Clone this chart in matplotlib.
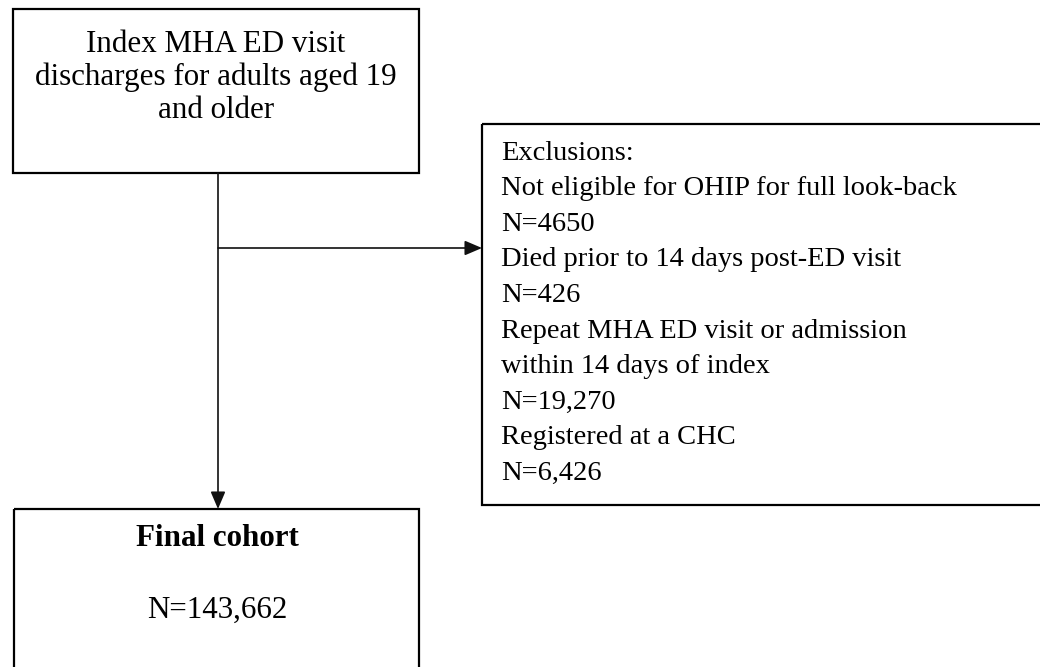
import matplotlib.pyplot as plt
from matplotlib.patches import Rectangle

# flowchart content
index_lines = ["Index MHA ED visit", "discharges for adults aged 19", "and older"]
exclusion_lines = [
    "Exclusions:",
    "Not eligible for OHIP for full look-back",
    "N=4650",
    "Died prior to 14 days post-ED visit",
    "N=426",
    "Repeat MHA ED visit or admission",
    "within 14 days of index",
    "N=19,270",
    "Registered at a CHC",
    "N=6,426",
]
final_title = "Final cohort"
final_n = "N=143,662"

plt.rcParams['font.family'] = ['Liberation Serif', 'DejaVu Serif']

fig = plt.figure(figsize=(10.4, 6.67), dpi=100)
ax = fig.add_axes([0, 0, 1, 1])
ax.set_xlim(0, 1040)
ax.set_ylim(667, 0)
ax.axis('off')

fs_left = 22.3
fs_right = 20.5

# boxes
box_kw = dict(fill=False, edgecolor='black', linewidth=1.6)
ax.add_patch(Rectangle((13, 9), 406, 164, **box_kw))
ax.add_patch(Rectangle((482, 124), 580, 381, **box_kw))
ax.add_patch(Rectangle((14, 509), 405, 180, **box_kw))

# top box text
for i, s in enumerate(index_lines):
    ax.text(216, 44 + i * 33.5, s, fontsize=fs_left, ha='center', va='center')

# exclusion text
for i, s in enumerate(exclusion_lines):
    ax.text(501, 153 + i * 35.6, s, fontsize=fs_right, ha='left', va='center')

# final cohort box
ax.text(217, 538, final_title, fontsize=fs_left, fontweight='bold', ha='center', va='center')
ax.text(217, 610, final_n, fontsize=fs_left, ha='center', va='center')

# connectors
arrow = dict(arrowstyle='-|>,head_length=0.75,head_width=0.32', color='#111111',
             lw=1.2, shrinkA=0, shrinkB=0, mutation_scale=14)
ax.annotate('', xy=(218, 509), xytext=(218, 173), arrowprops=arrow)
ax.annotate('', xy=(482, 248), xytext=(218, 248), arrowprops=arrow)

fig.savefig('out.png', dpi=100)
